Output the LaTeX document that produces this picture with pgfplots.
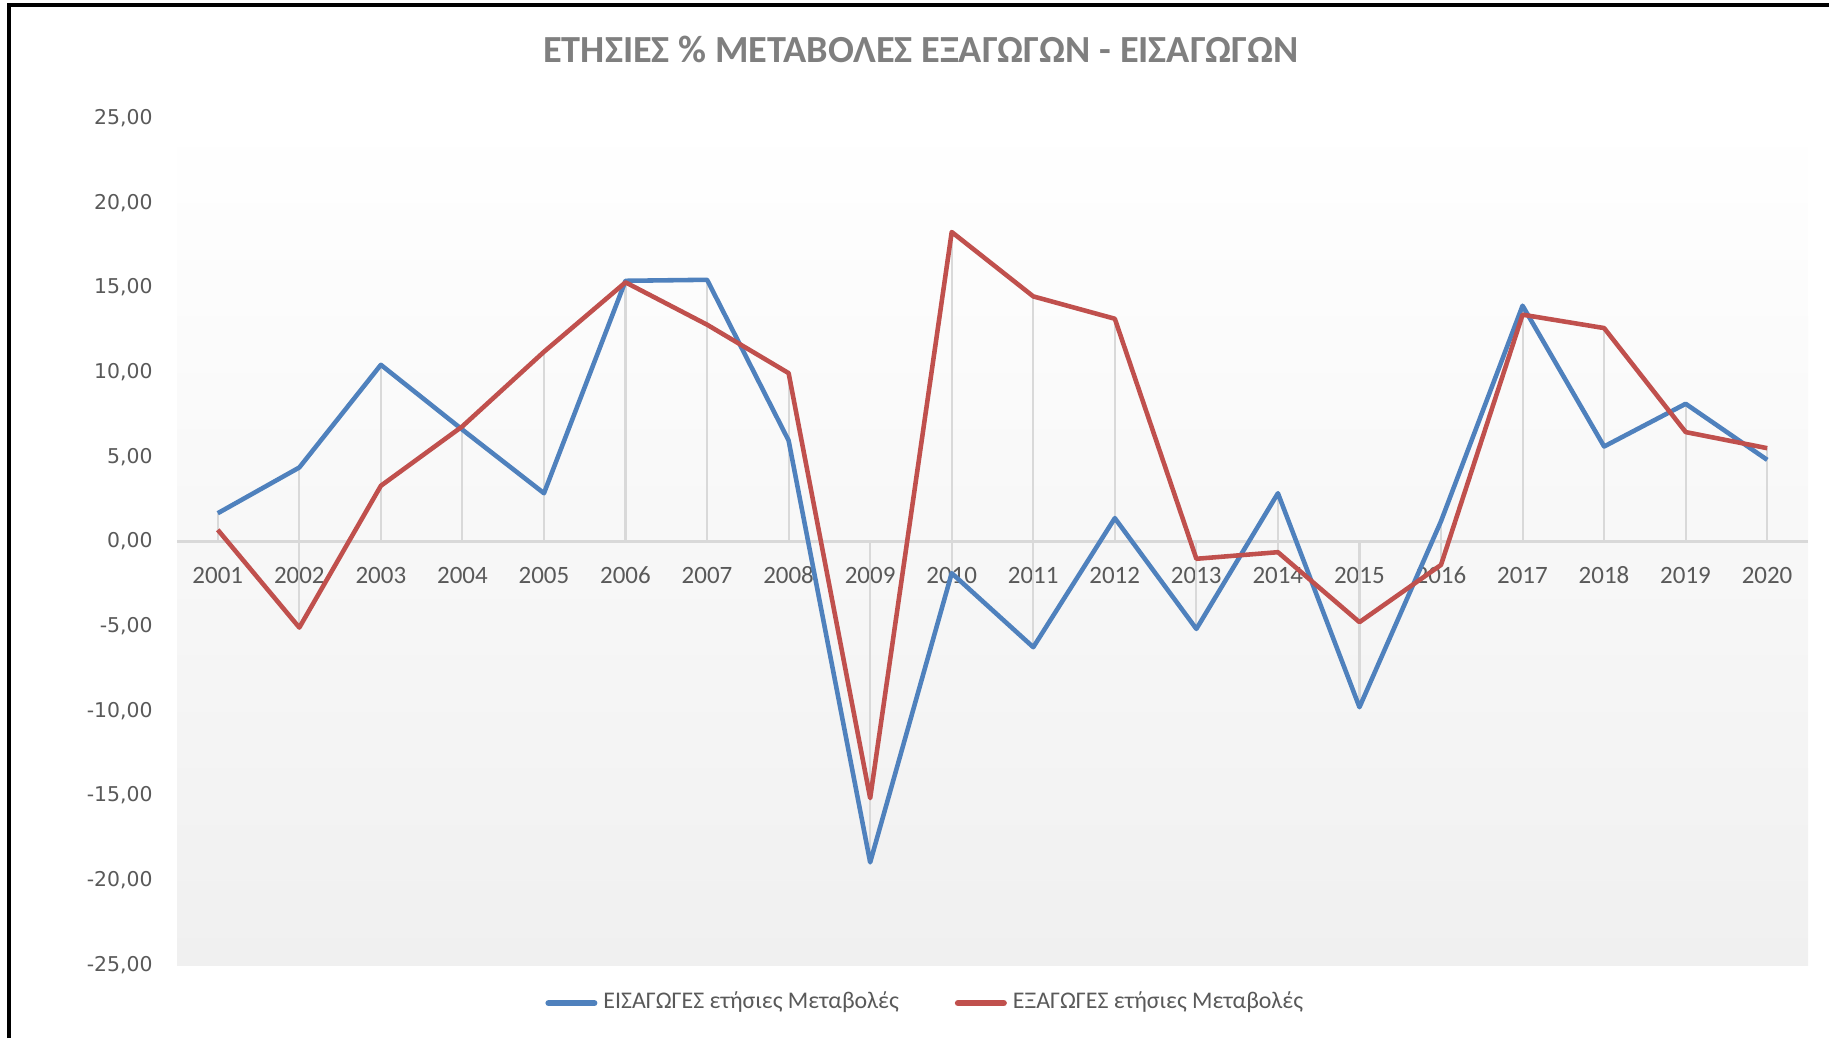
\documentclass[border=0pt]{standalone}
\usepackage{fontspec}
\setmainfont{Carlito}
\newfontfamily\dejavu{DejaVu Sans}
\usepackage{pgfplots}
\pgfplotsset{compat=1.18}
\definecolor{impblue}{HTML}{4F81BD}
\definecolor{expred}{HTML}{C0504D}
\definecolor{txtgray}{HTML}{595959}
\definecolor{ttlgray}{HTML}{7F7F7F}
\definecolor{gridgray}{HTML}{D9D9D9}
\definecolor{bggray}{HTML}{F0F0F0}

\begin{document}
\begin{tikzpicture}
\useasboundingbox (0,0) rectangle (18.29,10.38);
\draw[black, line width=1pt] (0.09,0) -- (0.09,10.33) -- (18.29,10.33);
\node[text=ttlgray, font=\fontsize{10.9}{12}\selectfont\bfseries] at (9.21,9.89)
  {ΕΤΗΣΙΕΣ \% ΜΕΤΑΒΟΛΕΣ ΕΞΑΓΩΓΩΝ - ΕΙΣΑΓΩΓΩΝ};
\begin{axis}[
  at={(1.77cm,0.73cm)}, anchor=south west,
  scale only axis, width=16.31cm, height=8.47cm,
  xmin=2000.5, xmax=2020.5, ymin=-25, ymax=25,
  xtick={2001,...,2020}, ytick={-25,-20,...,25},
  axis x line=middle, axis y line=left,
  x axis line style={-, draw=gridgray, line width=0.9pt},
  y axis line style={draw=none},
  major tick length=0pt,
  axis background/.style={shade, top color=white, bottom color=bggray},
  xticklabel style={font=\fontsize{7.1}{8}\selectfont, text=txtgray,
    /pgf/number format/1000 sep={}, /pgf/number format/assume math mode=true,
    yshift=-0.13cm},
  yticklabel style={font=\dejavu\fontsize{5.8}{7}\selectfont, text=txtgray,
    xshift=-0.12cm},
  y tick label style={/pgf/number format/fixed, /pgf/number format/fixed zerofill,
    /pgf/number format/precision=2, /pgf/number format/use comma,
    /pgf/number format/assume math mode=true},
  legend style={at={(0.46,-0.045)}, anchor=center, draw=none, fill=none,
    font=\fontsize{6.8}{8}\selectfont, text=txtgray,
    legend columns=2, column sep=0pt,
    nodes={inner xsep=0.06cm}},
  legend image code/.code={\draw[#1, line width=1.7pt, line cap=round]
    (0cm,0cm) -- (0.46cm,0cm);},
  /tikz/every even column/.append style={column sep=0.5cm},
  clip=false,
]
\addplot[ycomb, gridgray, line width=0.6pt, forget plot] coordinates {
  (2001,1.67)(2002,4.37)(2003,10.43)(2004,6.6)(2005,2.85)(2006,15.39)(2007,15.45)
  (2008,5.96)(2009,-18.94)(2010,-1.87)(2011,-6.24)(2012,1.38)(2013,-5.16)(2014,2.85)
  (2015,-9.78)(2016,1.2)(2017,13.92)(2018,5.61)(2019,8.13)(2020,4.82)};
\addplot[ycomb, gridgray, line width=0.6pt, forget plot] coordinates {
  (2001,0.69)(2002,-5.08)(2003,3.29)(2004,6.8)(2005,11.2)(2006,15.3)(2007,12.8)
  (2008,9.94)(2009,-15.15)(2010,18.27)(2011,14.47)(2012,13.15)(2013,-1.02)(2014,-0.63)
  (2015,-4.76)(2016,-1.38)(2017,13.39)(2018,12.6)(2019,6.46)(2020,5.51)};
\addplot[impblue, line width=1.3pt, line join=round] coordinates {
  (2001,1.67)(2002,4.37)(2003,10.43)(2004,6.6)(2005,2.85)(2006,15.39)(2007,15.45)
  (2008,5.96)(2009,-18.94)(2010,-1.87)(2011,-6.24)(2012,1.38)(2013,-5.16)(2014,2.85)
  (2015,-9.78)(2016,1.2)(2017,13.92)(2018,5.61)(2019,8.13)(2020,4.82)};
\addlegendentry{ΕΙΣΑΓΩΓΕΣ ετήσιες Μεταβολές}
\addplot[expred, line width=1.3pt, line join=round] coordinates {
  (2001,0.69)(2002,-5.08)(2003,3.29)(2004,6.8)(2005,11.2)(2006,15.3)(2007,12.8)
  (2008,9.94)(2009,-15.15)(2010,18.27)(2011,14.47)(2012,13.15)(2013,-1.02)(2014,-0.63)
  (2015,-4.76)(2016,-1.38)(2017,13.39)(2018,12.6)(2019,6.46)(2020,5.51)};
\addlegendentry{ΕΞΑΓΩΓΕΣ ετήσιες Μεταβολές}
\end{axis}
\end{tikzpicture}
\end{document}
